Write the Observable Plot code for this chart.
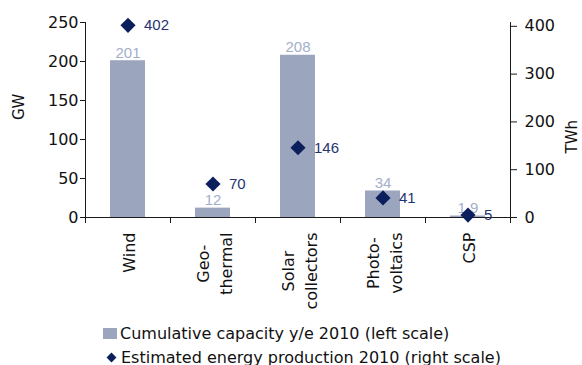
<!DOCTYPE html>
<html>
<head>
<meta charset="utf-8">
<script src="https://cdn.jsdelivr.net/npm/d3@7"></script>
<script src="https://cdn.jsdelivr.net/npm/@observablehq/plot@0.6"></script>
<style>
  body { margin: 0; background: #fff; font-family: "DejaVu Sans", Verdana, sans-serif; }
  #legend { padding: 3px 0 0 103px; font-size: 16px; color: #111; }
  #legend .row { display: flex; align-items: center; height: 24px; white-space: nowrap; }
  #legend .swatch { width: 14px; height: 11px; background: #9BA5BE; margin-right: 3px; flex: none; }
  #legend .diamond { width: 7px; height: 7px; background: #0B1F5C; transform: rotate(45deg); margin: 0 6px 0 5px; flex: none; }
</style>
</head>
<body>
<div id="chart"></div>
<div id="legend">
  <div class="row"><span class="swatch"></span>Cumulative capacity y/e 2010 (left scale)</div>
  <div class="row"><span class="diamond"></span>Estimated energy production 2010 (right scale)</div>
</div>
<script>
// Renewable technologies, cumulative capacity (GW) and estimated output (TWh)
const technologies = ["Wind", "Geo-\nthermal", "Solar\ncollectors", "Photo-\nvoltaics", "CSP"];
const capacityGW = [201, 12, 208, 34, 1.9];
const energyTWh = [402, 70, 146, 41, 5];
const gwTicks = [0, 50, 100, 150, 200, 250];
const twhTicks = [0, 100, 200, 300, 400];
const gwMax = 250;
const twhMax = 408;

// TWh values are drawn on the GW scale, rescaled so the right axis spans 0–twhMax
const k = gwMax / twhMax;
const rows = technologies.map((tech, i) => ({tech, gw: capacityGW[i], twh: energyTWh[i]}));

const font = `"DejaVu Sans", Verdana, sans-serif`;
const labelFont = `"Liberation Sans", Arial, sans-serif`;
const axisColor = "#1a1a1a";
const half = 42.5; // half of a category step, for boundary ticks and frame lines

const chart = Plot.plot({
  width: 582,
  height: 318,
  marginTop: 22,
  marginBottom: 101,
  marginLeft: 85,
  marginRight: 72,
  style: {fontFamily: font, fontSize: "16px", color: "#111", background: "#fff"},
  x: {domain: technologies, paddingInner: 0.59, paddingOuter: 0.295, axis: null, label: null},
  y: {domain: [0, gwMax], axis: null, label: null},
  marks: [
    Plot.barY(rows, {x: "tech", y: "gw", fill: "#9BA5BE"}),
    Plot.ruleY([0], {stroke: axisColor}),
    Plot.ruleX([technologies[0]], {dx: -half, stroke: axisColor}),
    Plot.ruleX([technologies[technologies.length - 1]], {dx: half, stroke: axisColor}),
    Plot.axisY(gwTicks, {anchor: "left", tickSize: 5, tickPadding: 2, stroke: axisColor, label: null}),
    Plot.axisY(twhTicks.map((t) => t * k), {anchor: "right", tickSize: 6, tickPadding: 8, stroke: axisColor,
      tickFormat: (d) => String(Math.round(d / k)), label: null}),
    Plot.axisX({tickSize: 6, dx: -half, tickFormat: () => "", label: null, stroke: axisColor}),
    Plot.axisX({tickSize: 6, dx: half, tickFormat: () => "", label: null, stroke: axisColor}),
    Plot.axisX({tickSize: 0, tickPadding: 15, tickRotate: -90, lineHeight: 1.45, label: null}),
    // axis titles
    Plot.text(["GW"], {text: (d) => d, frameAnchor: "left", rotate: -90, dx: -66, fontSize: 15, fill: "#111"}),
    Plot.text(["TWh"], {text: (d) => d, frameAnchor: "right", rotate: -90, dx: 62, fontSize: 15, fill: "#111"}),
    // capacity bars' value labels
    Plot.text(rows, {x: "tech", y: "gw", text: (d) => String(d.gw), lineAnchor: "bottom", dy: -3,
      fill: "#A4AECB", fontSize: 15, fontFamily: labelFont}),
    // energy production diamonds and their labels
    Plot.dot(rows, {x: "tech", y: (d) => d.twh * k, symbol: "diamond2", r: 6.8, fill: "#0B1F5C"}),
    Plot.text(rows, {x: "tech", y: (d) => d.twh * k, text: (d) => String(d.twh), textAnchor: "start",
      dx: 16, fill: "#1F3570", fontSize: 15, fontFamily: labelFont})
  ]
});

document.getElementById("chart").append(chart);

// Centre each line of the rotated category labels within its label block,
// keeping the top of the block just under the axis.
const ctx = document.createElement("canvas").getContext("2d");
ctx.font = `16px ${font}`;
chart.querySelectorAll('g[aria-label="x-axis tick label"] text').forEach((text) => {
  const spans = text.querySelectorAll("tspan");
  const lines = spans.length ? [...spans].map((s) => s.textContent) : [text.textContent];
  const w = Math.max(...lines.map((l) => ctx.measureText(l).width));
  text.setAttribute("text-anchor", "middle");
  text.setAttribute("transform", `${text.getAttribute("transform") || ""} translate(${-w / 2},0)`);
});
</script>
</body>
</html>
